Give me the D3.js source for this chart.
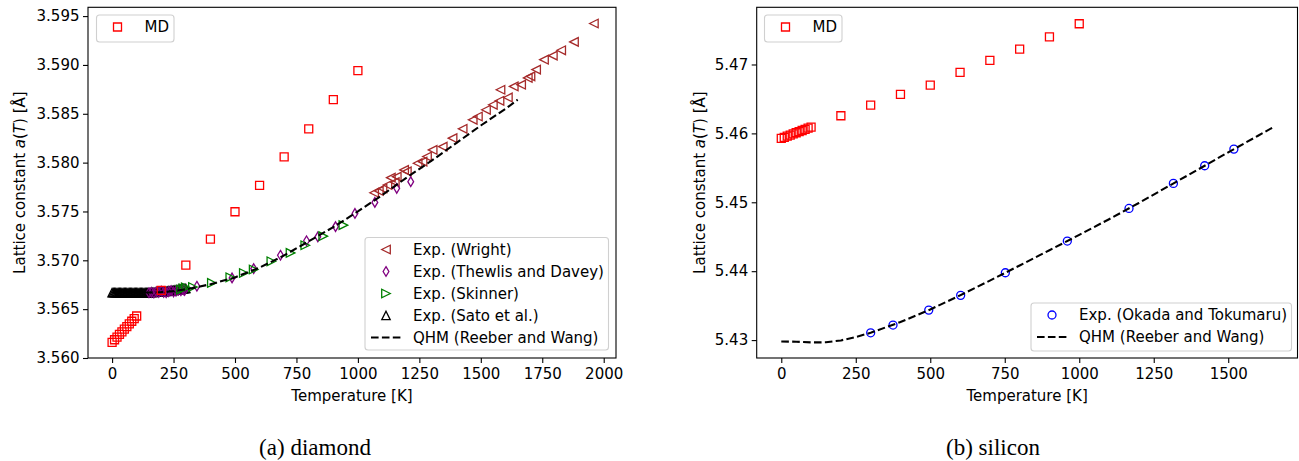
<!DOCTYPE html>
<html>
<head>
<meta charset="utf-8">
<script src="https://cdn.jsdelivr.net/npm/d3@7"></script>
<style>
  body { margin: 0; background: #fff; }
  svg text { font-family: "DejaVu Sans", sans-serif; fill: #000; }
</style>
</head>
<body>
<svg id="fig" width="1299" height="461"></svg>
<script>
// ---------- Diamond (panel a) ----------
const mdDiamondT = [0, 10, 20, 30, 40, 50, 60, 70, 80, 90, 100, 200, 300, 400, 500, 600, 700, 800, 900, 1000];
const mdDiamondA = [3.56160, 3.56187, 3.56214, 3.56241, 3.56268, 3.56295, 3.56322, 3.56349, 3.56376, 3.56403, 3.56430,
                    3.56693, 3.56950, 3.57217, 3.57497, 3.57768, 3.58059, 3.58346, 3.58644, 3.58941];

const wrightT = [1066, 1085, 1100, 1120, 1134, 1150, 1158, 1188, 1199, 1243, 1263, 1281, 1304, 1345, 1385, 1426, 1467,
                 1488, 1521, 1549, 1576, 1580, 1610, 1634, 1664, 1691, 1702, 1725, 1757, 1793, 1827, 1879, 1960];
const wrightA = [3.57692, 3.57710, 3.57735, 3.57771, 3.57846, 3.57800, 3.57856, 3.57925, 3.57910, 3.57994, 3.58010,
                 3.58062, 3.58130, 3.58164, 3.58250, 3.58346, 3.58438, 3.58472, 3.58541, 3.58592, 3.58633, 3.58746,
                 3.58667, 3.58780, 3.58798, 3.58867, 3.58883, 3.58952, 3.59054, 3.59095, 3.59150, 3.59236, 3.59424];

const thewlisT = [150, 160, 170, 180, 190, 200, 210, 220, 230, 240, 250, 260, 270, 280, 290, 295,
                  345, 488, 576, 685, 791, 837, 909, 988, 1069, 1158, 1215];
const thewlisA = [3.56668, 3.56672, 3.56665, 3.56678, 3.56670, 3.56685, 3.56672, 3.56668, 3.56680, 3.56690, 3.56675,
                  3.56683, 3.56695, 3.56688, 3.56700, 3.56692,
                  3.56735, 3.56820, 3.56915, 3.57052, 3.57200, 3.57240, 3.57345, 3.57480, 3.57593, 3.57737, 3.57805];

const skinnerT = [280, 290, 300, 329, 406, 481, 536, 576, 648, 726, 786, 859, 941];
const skinnerA = [3.56700, 3.56712, 3.56722, 3.56727, 3.56768, 3.56826, 3.56870, 3.56906, 3.56990, 3.57076, 3.57154,
                  3.57247, 3.57360];

const satoT = [0, 5, 10, 15, 20, 25, 30, 35, 40, 45, 50, 55, 60, 65, 70, 75, 80, 85, 90, 95, 100, 105, 110, 115, 120,
               125, 130, 135, 140, 145, 150, 155, 160, 165, 170, 175, 180, 185, 190, 195, 200, 205, 210, 215, 220,
               225, 230, 235, 240, 245, 250, 255, 260, 265, 270, 275, 280, 285, 290, 295, 300];
const satoA = [3.56669, 3.56669, 3.56669, 3.56669, 3.56669, 3.56669, 3.56669, 3.56669, 3.56669, 3.56669, 3.56669,
               3.56669, 3.56669, 3.56669, 3.56669, 3.56669, 3.56669, 3.56669, 3.56669, 3.56669, 3.56669, 3.56669,
               3.56669, 3.56669, 3.56669, 3.56669, 3.56669, 3.56669, 3.56669, 3.56669, 3.56670, 3.56670, 3.56671,
               3.56671, 3.56672, 3.56673, 3.56674, 3.56675, 3.56676, 3.56677, 3.56678, 3.56679, 3.56680, 3.56681,
               3.56683, 3.56684, 3.56686, 3.56687, 3.56689, 3.56690, 3.56692, 3.56694, 3.56696, 3.56698, 3.56700,
               3.56702, 3.56704, 3.56706, 3.56708, 3.56710, 3.56712];

const qhmDiamondT = [0, 50, 100, 150, 200, 250, 300, 400, 500, 600, 700, 800, 900, 1000, 1100, 1200, 1300, 1400, 1500, 1600, 1650];
const qhmDiamondA = [3.56670, 3.56670, 3.56670, 3.56671, 3.56674, 3.56685, 3.56702, 3.56755, 3.56825, 3.56925, 3.57050,
                     3.57195, 3.57340, 3.57500, 3.57670, 3.57850, 3.58020, 3.58200, 3.58380, 3.58550, 3.58644];

const diamondXTicks = [0, 250, 500, 750, 1000, 1250, 1500, 1750, 2000];
const diamondYTicks = [3.560, 3.565, 3.570, 3.575, 3.580, 3.585, 3.590, 3.595];

// ---------- Silicon (panel b) ----------
const mdSiliconT = [0, 10, 20, 30, 40, 50, 60, 70, 80, 90, 100, 200, 300, 400, 500, 600, 700, 800, 900, 1000];
const mdSiliconA = [5.45927, 5.45943, 5.45960, 5.45976, 5.45993, 5.46009, 5.46025, 5.46042, 5.46058, 5.46075, 5.46091,
                    5.46256, 5.46411, 5.46566, 5.46701, 5.46885, 5.47059, 5.47223, 5.47402, 5.47591];

const okadaT = [300, 375, 495, 602, 752, 960, 1167, 1316, 1421, 1519];
const okadaA = [5.43106, 5.43218, 5.43435, 5.43649, 5.43977, 5.44437, 5.44911, 5.45274, 5.45530, 5.45772];

const qhmSiliconT = [0, 50, 100, 150, 200, 250, 300, 400, 500, 600, 700, 800, 900, 1000, 1100, 1200, 1300, 1400, 1500, 1600, 1650];
const qhmSiliconA = [5.42980, 5.42976, 5.42966, 5.42968, 5.42995, 5.43045, 5.43106, 5.43262, 5.43444, 5.43649, 5.43863,
                     5.44083, 5.44304, 5.44527, 5.44754, 5.44990, 5.45235, 5.45479, 5.45725, 5.45966, 5.46087];

const siliconXTicks = [0, 250, 500, 750, 1000, 1250, 1500];
const siliconYTicks = [5.43, 5.44, 5.45, 5.46, 5.47];

// ---------- marker shapes (centred on 0,0) ----------
const markerPath = {
  square: r => `M${-r},${-r}H${r}V${r}H${-r}Z`,
  triLeft: r => `M${-r},0L${r},${-r}L${r},${r}Z`,
  triRight: r => `M${r},0L${-r},${-r}L${-r},${r}Z`,
  triUp: r => `M0,${-r}L${r},${r}L${-r},${r}Z`,
  thinDiamond: r => `M0,${-r}L${r * 0.6},0L0,${r}L${-r * 0.6},0Z`,
  circle: r => `M${-r},0A${r},${r} 0 1,0 ${r},0A${r},${r} 0 1,0 ${-r},0Z`
};

const FS = 15;  // font size used for ticks, labels and legends
const svg = d3.select("#fig");
const zip = (xs, ys) => xs.map((x, i) => ({ x, y: ys[i] }));

function drawMarkers(g, x, y, data, shape, r, color) {
  g.append("g").selectAll("path").data(data).join("path")
    .attr("transform", d => `translate(${x(d.x)},${y(d.y)})`)
    .attr("d", markerPath[shape](r))
    .attr("fill", "none")
    .attr("stroke", color)
    .attr("stroke-width", 1.3);
}

function drawLine(g, x, y, data) {
  g.append("path").datum(data)
    .attr("d", d3.line().x(d => x(d.x)).y(d => y(d.y)))
    .attr("fill", "none")
    .attr("stroke", "#000")
    .attr("stroke-width", 2.1)
    .attr("stroke-dasharray", "7.6,3.3");
}

function drawAxes(x, y, xTicks, yTicks, yFmt, box, yLabelOffset) {
  const gx = svg.append("g").attr("transform", `translate(0,${box.bottom})`)
    .call(d3.axisBottom(x).tickValues(xTicks).tickFormat(d3.format("d")).tickSize(5).tickPadding(5));
  const gy = svg.append("g").attr("transform", `translate(${box.left},0)`)
    .call(d3.axisLeft(y).tickValues(yTicks).tickFormat(d3.format(yFmt)).tickSize(5).tickPadding(3.5));
  [gx, gy].forEach(g => {
    g.select(".domain").remove();
    g.selectAll("line").attr("stroke", "#000").attr("stroke-width", 1.1);
    g.selectAll("text").attr("font-size", FS).attr("font-family", "DejaVu Sans").attr("fill", "#000");
  });
  svg.append("rect")
    .attr("x", box.left).attr("y", box.top)
    .attr("width", box.right - box.left).attr("height", box.bottom - box.top)
    .attr("fill", "none").attr("stroke", "#000").attr("stroke-width", 1.1);

  // axis labels
  svg.append("text").attr("x", (box.left + box.right) / 2).attr("y", 401)
    .attr("text-anchor", "middle").attr("font-size", FS).text("Temperature [K]");
  const yl = svg.append("text")
    .attr("transform", `translate(${box.left - yLabelOffset},${(box.top + box.bottom) / 2}) rotate(-90)`)
    .attr("text-anchor", "middle").attr("font-size", FS);
  yl.append("tspan").text("Lattice constant ");
  yl.append("tspan").attr("font-style", "italic").text("a");
  yl.append("tspan").text("(");
  yl.append("tspan").attr("font-style", "italic").text("T");
  yl.append("tspan").text(") [Å]");
}

function legend(x0, y0, w, h, rows) {
  const g = svg.append("g");
  g.append("rect").attr("x", x0).attr("y", y0).attr("width", w).attr("height", h)
    .attr("rx", 3).attr("fill", "#fff").attr("fill-opacity", 0.85)
    .attr("stroke", "#d0d0d0").attr("stroke-width", 1.1);
  rows.forEach((r, i) => {
    const cy = y0 + 12 + i * 22;
    if (r.shape === "line") {
      g.append("line").attr("x1", x0 + 6).attr("x2", x0 + 36).attr("y1", cy).attr("y2", cy)
        .attr("stroke", "#000").attr("stroke-width", 2.1).attr("stroke-dasharray", "7.6,3.3");
    } else {
      g.append("path").attr("transform", `translate(${x0 + 21},${cy})`)
        .attr("d", markerPath[r.shape](r.r)).attr("fill", "none")
        .attr("stroke", r.color).attr("stroke-width", 1.3);
    }
    g.append("text").attr("x", x0 + 48).attr("y", cy).attr("dy", "0.36em")
      .attr("font-size", FS).text(r.label);
  });
}

// ================= panel (a): diamond =================
{
  const box = { left: 88, right: 616, top: 7.3, bottom: 358 };
  const x = d3.scaleLinear().domain([-98, 2050]).range([box.left, box.right]);
  const y = d3.scaleLinear().domain([3.5600, 3.5959]).range([box.bottom, box.top]);
  drawAxes(x, y, diamondXTicks, diamondYTicks, ".3f", box, 63);
  const g = svg.append("g");
  drawMarkers(g, x, y, zip(satoT, satoA), "triUp", 4.2, "#000");
  drawMarkers(g, x, y, zip(wrightT, wrightA), "triLeft", 4.3, "#a52a2a");
  drawMarkers(g, x, y, zip(thewlisT, thewlisA), "thinDiamond", 4.8, "#800080");
  drawMarkers(g, x, y, zip(skinnerT, skinnerA), "triRight", 4.3, "#008000");
  drawLine(g, x, y, zip(qhmDiamondT, qhmDiamondA));
  drawMarkers(g, x, y, zip(mdDiamondT, mdDiamondA), "square", 4, "#ff0000");

  legend(96.5, 15, 77.5, 27, [{ shape: "square", r: 4, color: "#ff0000", label: "MD" }]);
  legend(365, 237.5, 243.5, 112.5, [
    { shape: "triLeft", r: 4.3, color: "#a52a2a", label: "Exp. (Wright)" },
    { shape: "thinDiamond", r: 4.8, color: "#800080", label: "Exp. (Thewlis and Davey)" },
    { shape: "triRight", r: 4.3, color: "#008000", label: "Exp. (Skinner)" },
    { shape: "triUp", r: 4.2, color: "#000", label: "Exp. (Sato et al.)" },
    { shape: "line", label: "QHM (Reeber and Wang)" }
  ]);
  svg.append("text").attr("x", 315).attr("y", 455).attr("text-anchor", "middle")
    .style("font-family", "'Liberation Serif', serif")
    .attr("font-size", 23).text("(a) diamond");
}

// ================= panel (b): silicon =================
{
  const box = { left: 756.7, right: 1297.5, top: 7.3, bottom: 358 };
  const x = d3.scaleLinear().domain([-82.5, 1732.5]).range([box.left, box.right]);
  const y = d3.scaleLinear().domain([5.4274, 5.4783]).range([box.bottom, box.top]);
  drawAxes(x, y, siliconXTicks, siliconYTicks, ".2f", box, 52);
  const g = svg.append("g");
  drawMarkers(g, x, y, zip(okadaT, okadaA), "circle", 4, "#0000ff");
  drawLine(g, x, y, zip(qhmSiliconT, qhmSiliconA));
  drawMarkers(g, x, y, zip(mdSiliconT, mdSiliconA), "square", 4, "#ff0000");

  legend(764.5, 15, 77.5, 27, [{ shape: "square", r: 4, color: "#ff0000", label: "MD" }]);
  legend(1031, 303, 260.5, 48, [
    { shape: "circle", r: 4, color: "#0000ff", label: "Exp. (Okada and Tokumaru)" },
    { shape: "line", label: "QHM (Reeber and Wang)" }
  ]);
  svg.append("text").attr("x", 993).attr("y", 455).attr("text-anchor", "middle")
    .style("font-family", "'Liberation Serif', serif")
    .attr("font-size", 23).text("(b) silicon");
}
</script>
</body>
</html>
